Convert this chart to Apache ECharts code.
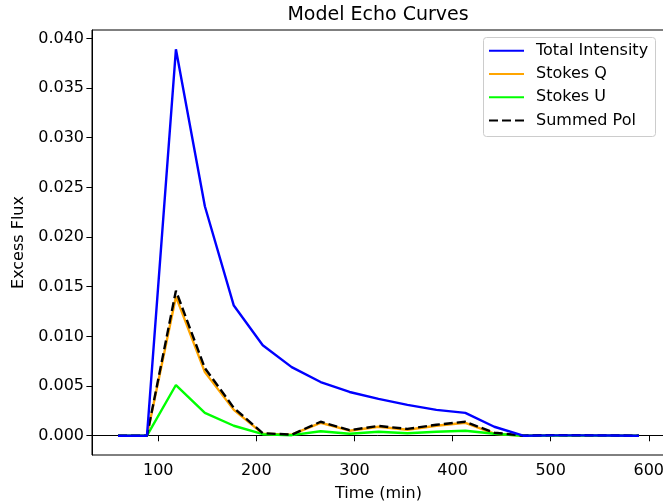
<!DOCTYPE html>
<html>
<head>
<meta charset="utf-8">
<script src="https://cdn.jsdelivr.net/npm/echarts@6/dist/echarts.min.js"></script>
<style>html,body{margin:0;padding:0;background:#fff;}#c{width:663px;height:504px;}</style>
</head>
<body>
<div id="c"></div>
<script>
const times = [59, 88.5, 118, 147.5, 177, 206.5, 236, 265.5, 295, 324.5, 354, 383.5, 413, 442.5, 472, 501.5, 531, 560.5, 590];
const totalIntensity = [0, 0, 0.0389, 0.0231, 0.0131, 0.0091, 0.0069, 0.0054, 0.0044, 0.0037, 0.0031, 0.0026, 0.0023, 0.0009, 0, 0.00003, 0.00003, 0.00002, 0];
const stokesQ = [0, 0, 0.0140, 0.0064, 0.0026, 0.0002, 0.0001, 0.0013, 0.0005, 0.0009, 0.0006, 0.0010, 0.0013, 0.0002, 0, 0.00005, 0.00003, 0.00002, 0];
const stokesU = [0, 0, 0.0051, 0.0023, 0.0010, 0.00015, 0.00005, 0.00045, 0.0002, 0.0004, 0.00025, 0.0004, 0.0005, 0.0002, 0, 0.00002, 0.00002, 0.00001, 0];
const summedPol = [0, 0, 0.0146, 0.0068, 0.0028, 0.00025, 0.0001, 0.0014, 0.00055, 0.00098, 0.00068, 0.0011, 0.0014, 0.0003, 0, 0.00006, 0.00004, 0.00003, 0];
const xTicks = [100, 200, 300, 400, 500, 600];
const yTicks = [0, 0.005, 0.010, 0.015, 0.020, 0.025, 0.030, 0.035, 0.040];
const seriesNames = ['Total Intensity', 'Stokes Q', 'Stokes U', 'Summed Pol'];

const FONT = 'DejaVu Sans';
const chart = echarts.init(document.getElementById('c'), null, {renderer: 'canvas'});
function pairs(vals) { return times.map((t, i) => [t, vals[i]]); }
function mk(name, vals, color, type, z) {
  return {
    name: name, type: 'line', data: pairs(vals), symbol: 'none', animation: false, z: z,
    lineStyle: {color: color, width: 2.4, type: type || 'solid'},
    itemStyle: {color: color}
  };
}
const axisCommon = {
  axisLine: {show: true, lineStyle: {color: '#000', width: 1}},
  splitLine: {show: false},
  nameTextStyle: {fontFamily: FONT, fontSize: 16, color: '#000'}
};
chart.setOption({
  animation: false,
  backgroundColor: '#fff',
  grid: {left: 92, top: 30, width: 573, height: 425, show: true, borderColor: '#000', borderWidth: 1, containLabel: false, outerBoundsMode: 'none'},
  graphic: [
    {type: 'text', x: 378, y: 15, style: {text: 'Model Echo Curves', fontFamily: FONT, fontSize: 19, fill: '#000', textAlign: 'center', textVerticalAlign: 'middle'}},
    {type: 'rect', shape: {x: 483.5, y: 37.5, width: 172, height: 99, r: 3}, style: {fill: 'rgba(255,255,255,0.8)', stroke: '#cccccc', lineWidth: 1}, z: 10}
  ],
  legend: {
    orient: 'vertical', left: 483, top: 37, padding: [5.7, 6, 9, 5],
    itemWidth: 35, itemHeight: 16, itemGap: 7.3, z: 20,
    data: seriesNames,
    itemStyle: {color: 'rgba(0,0,0,0)', borderColor: 'rgba(0,0,0,0)', borderWidth: 0, opacity: 0},
    textStyle: {fontFamily: FONT, fontSize: 16, color: '#000', padding: [0, 0, 0, 7]}
  },
  xAxis: Object.assign({}, axisCommon, {
    type: 'value', min: 32.45, max: 616.55,
    name: 'Time (min)', nameLocation: 'middle', nameGap: 31,
    axisTick: {show: true, length: 5.6, lineStyle: {color: '#000'}, customValues: xTicks},
    axisLabel: {fontFamily: FONT, fontSize: 16, color: '#000', margin: 8, customValues: xTicks, formatter: v => String(v)}
  }),
  yAxis: Object.assign({}, axisCommon, {
    type: 'value', min: -0.001945, max: 0.040845,
    name: 'Excess Flux', nameLocation: 'middle', nameGap: 64,
    axisTick: {show: true, length: 5.6, lineStyle: {color: '#000'}, customValues: yTicks},
    axisLabel: {fontFamily: FONT, fontSize: 16, color: '#000', margin: 8, customValues: yTicks, formatter: v => v.toFixed(3)}
  }),
  series: [
    mk(seriesNames[0], totalIntensity, '#0000ff', null, 5),
    mk(seriesNames[1], stokesQ, '#ffa500', null, 2),
    mk(seriesNames[2], stokesU, '#00ff00', null, 3),
    mk(seriesNames[3], summedPol, '#000000', [9, 4], 4)
  ]
});
</script>
</body>
</html>
